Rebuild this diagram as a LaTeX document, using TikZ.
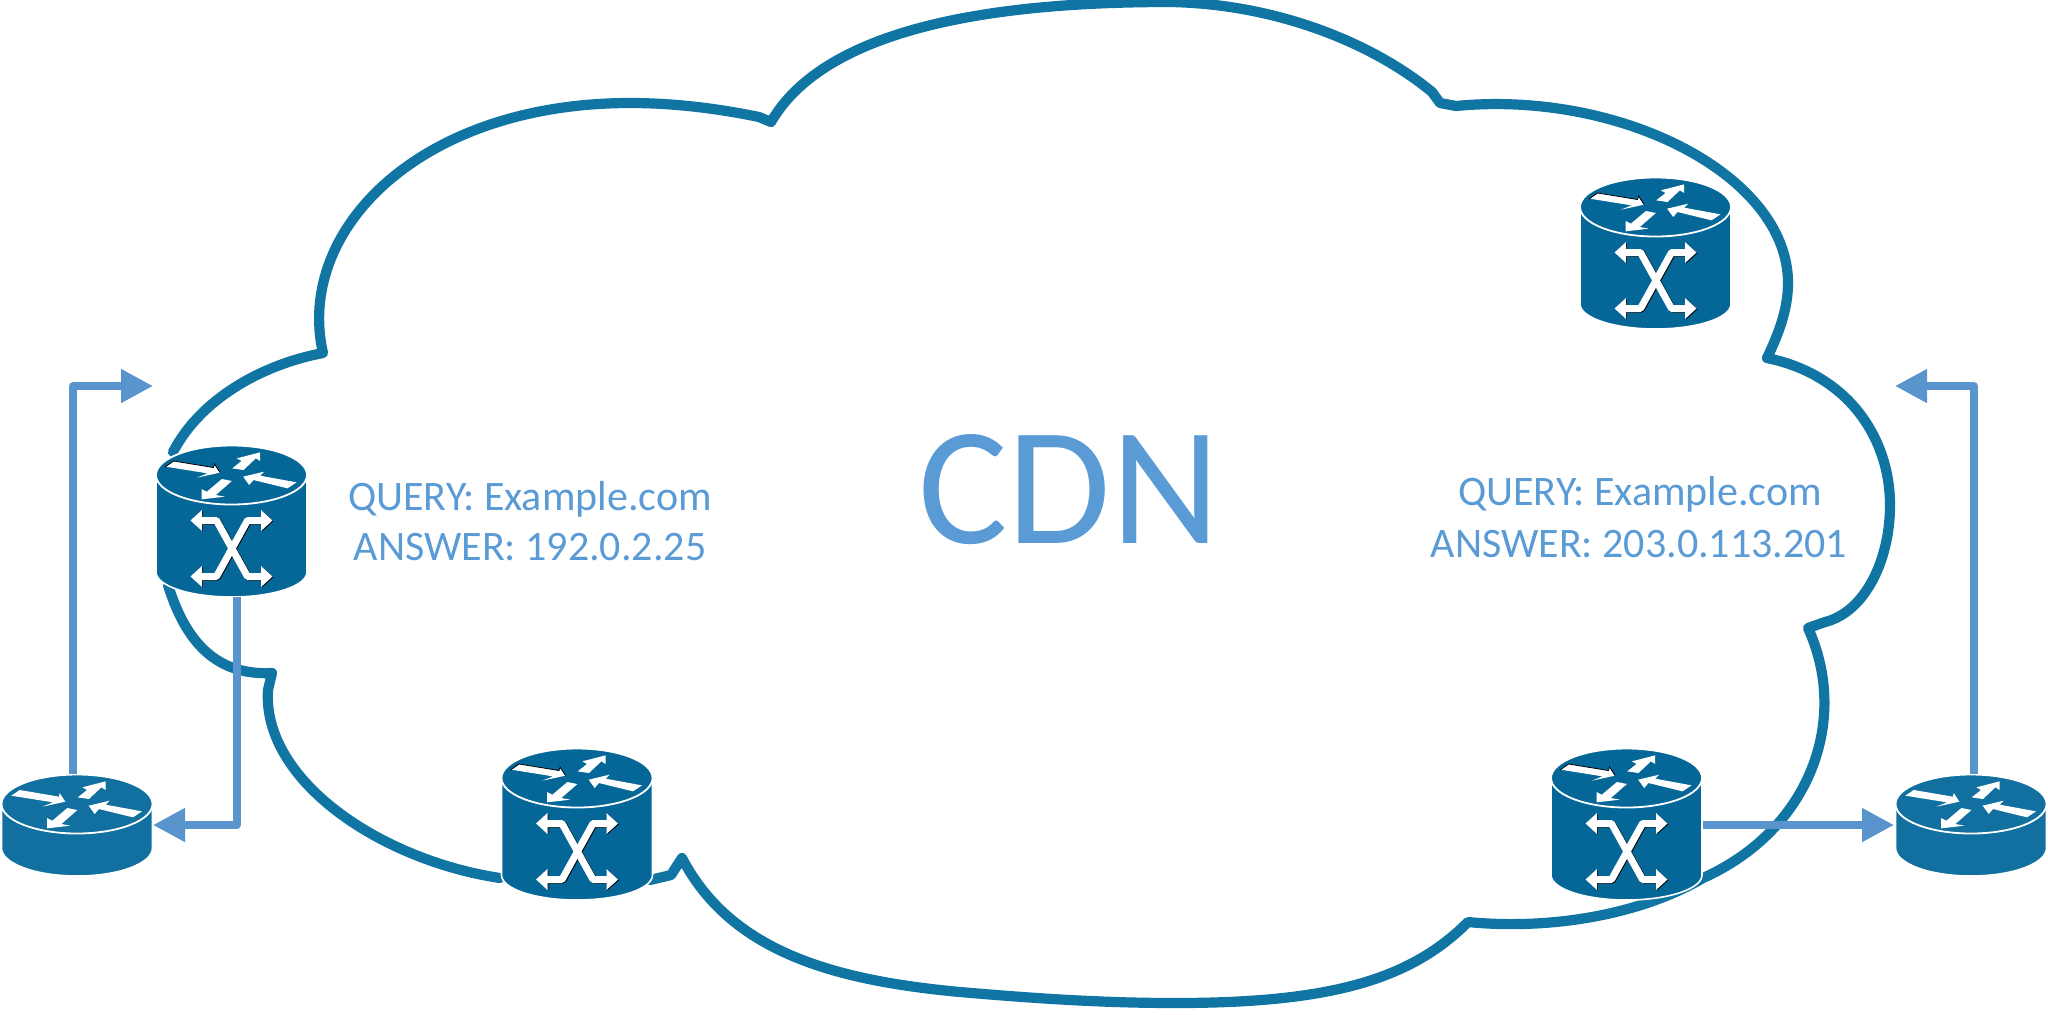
\documentclass[tikz,border=0pt]{standalone}
\usepackage{fontspec}
\setmainfont{Carlito}
\usetikzlibrary{arrows.meta}
\definecolor{cloudc}{HTML}{1175A3}
\definecolor{rtall}{HTML}{046798}
\definecolor{rshort}{HTML}{11709F}
\definecolor{linkc}{HTML}{5A94CC}
\definecolor{textc}{HTML}{5B9BD5}
\tikzset{
  x=0.5pt,y=-0.5pt,
  cloudline/.style={draw=cloudc,line width=5.1pt,line join=round,line cap=round},
  link/.style={draw=linkc,line width=3.8pt,line join=round,-{Triangle[length=16pt,width=16pt,fill=linkc]}},
  label/.style={text=textc,font=\fontsize{21}{25}\selectfont,anchor=base,inner sep=0pt},
  tallbox/.style={minimum width=76pt,minimum height=75pt,inner sep=0pt},
  shortbox/.style={minimum width=76pt,minimum height=50.5pt,inner sep=0pt},
  rarrows/.pic={
    \begin{scope}[xscale=1/3,yscale=1/3,shift={(-232,-220)}]
      \fill[white] (35,195)--(60,178)--(178,198)--(180,187)--(197,213)--(128,228)--(160,215)--cycle;
      \fill[white] (234,200)--(262,178)--(248,170)--(318,152)--(318,178)--(305,170)--(268,205)--cycle;
      \fill[white] (267,225)--(330,210)--(318,222)--(427,242)--(400,260)--(298,235)--(285,250)--cycle;
      \fill[white] (142,293)--(142,262)--(158,270)--(203,232)--(233,238)--(185,280)--(212,285)--cycle;
    \end{scope}
  },
  shortrouter/.pic={
    \path[fill=#1,draw=white,line width=0.8pt] (-75.5,0) -- (-75.5,44) arc[x radius=75.5,y radius=28,start angle=180,end angle=0] -- (75.5,0) -- cycle;
    \path[fill=#1,draw=white,line width=0.9pt] (0,0) ellipse[x radius=75.5,y radius=29.5];
    \pic {rarrows};
  },
  tallrouter/.pic={
    \path[fill=#1,draw=white,line width=0.8pt] (-75.5,0) -- (-75.5,97) arc[x radius=75.5,y radius=25,start angle=180,end angle=0] -- (75.5,0) -- cycle;
    \path[fill=#1,draw=white,line width=0.9pt] (0,0) ellipse[x radius=75.5,y radius=29.5];
    \pic {rarrows};
    \draw[black,line width=0.4pt] (-66.5,-8) -- (-58,-14) -- (-18,-7.5) -- (-17,-11) -- (-11.5,-2.5);
    \foreach \sx/\dx/\dy in {1/0.9/0.6,0/0/0}{
      \ifnum\sx=1 \def\cc{black}\else\def\cc{white}\fi
      \begin{scope}[shift={(\dx,\dy)}]
        \draw[\cc,line width=3.5pt,line join=round] (-30,45.5) -- (-15,45.5) -- (16,101.5) -- (30,101.5);
        \draw[\cc,line width=3.5pt,line join=round] (-30,101.5) -- (-15,101.5) -- (16,45.5) -- (30,45.5);
        \fill[\cc] (-41,45.5)--(-29.5,35)--(-29.5,56)--cycle;
        \fill[\cc] (41,45.5)--(29.5,35)--(29.5,56)--cycle;
        \fill[\cc] (-41,101.5)--(-29.5,91)--(-29.5,112)--cycle;
        \fill[\cc] (41,101.5)--(29.5,91)--(29.5,112)--cycle;
      \end{scope}
    }
  },
}
\begin{document}
\begin{tikzpicture}
\useasboundingbox (0,0) rectangle (2048,1014);
% cloud
\draw[cloudline] (771,122)
  .. controls (830,20) and (1020,2) .. (1170,2)
  .. controls (1280,4) and (1375,45) .. (1432,92)
  -- (1440,103) -- (1456,106)
  .. controls (1620,90) and (1788,175) .. (1788,283)
  .. controls (1788,310) and (1778,335) .. (1767,358)
  .. controls (1850,375) and (1890,440) .. (1890,505)
  .. controls (1890,560) and (1865,612) .. (1825,622)
  -- (1808,628)
  .. controls (1850,720) and (1810,830) .. (1703,878)
  .. controls (1640,915) and (1550,930) .. (1468,922)
  .. controls (1410,980) and (1330,1003) .. (1175,1003)
  .. controls (1100,1003) and (1030,998) .. (960,992)
  .. controls (830,980) and (730,950) .. (682,858)
  -- (671,875) -- (650,880);
\draw[cloudline] (500,878)
  .. controls (380,860) and (262,780) .. (268,690)
  -- (272,673)
  .. controls (215,676) and (185,640) .. (168,585);
\draw[cloudline] (173,452)
  .. controls (200,400) and (260,365) .. (323,353)
  .. controls (295,230) and (420,103) .. (630,103)
  .. controls (680,103) and (725,110) .. (759,117)
  -- (771,122);
% routers
\node[tallbox] (rTL) at (231.5,522) {};
\pic at (231.5,475) {tallrouter={rtall}};
\node[tallbox] (rTR) at (1655.5,254) {};
\pic at (1655.5,207) {tallrouter={rtall}};
\node[tallbox] (rMB) at (577,825) {};
\pic at (577,778) {tallrouter={rtall}};
\node[tallbox] (rMR) at (1626.5,825) {};
\pic at (1626.5,778) {tallrouter={rtall}};
\node[shortbox] (rBL) at (77,824.5) {};
\pic at (77,804) {shortrouter={rshort}};
\node[shortbox] (rBR) at (1971,824.5) {};
\pic at (1971,804) {shortrouter={rshort}};
% connectors
\coordinate (tipTL) at (153,386);
\coordinate (tipBL) at (153,825);
\coordinate (tipR) at (1894,825);
\coordinate (tipTR) at (1895,386);
\draw[link] ([xshift=-2pt]rBL.north) |- (tipTL);
\draw[link] ([xshift=2.75pt]rTL.south) |- (tipBL);
\draw[link] (rMR.east) -- (tipR);
\draw[link] ([xshift=1.5pt]rBR.north) |- (tipTR);
% labels
\node[label] (q1) at (530,510) {QUERY: Example.com};
\node[label] (a1) at (530,560) {ANSWER: 192.0.2.25};
\node[label] (q2) at (1640,505) {QUERY: Example.com};
\node[label] (a2) at (1639,557) {ANSWER: 203.0.113.201};
\node[text=textc,font=\fontsize{84}{90}\selectfont,anchor=base,inner sep=0pt] (cdn) at (1069,543) {CDN};
\end{tikzpicture}
\end{document}
